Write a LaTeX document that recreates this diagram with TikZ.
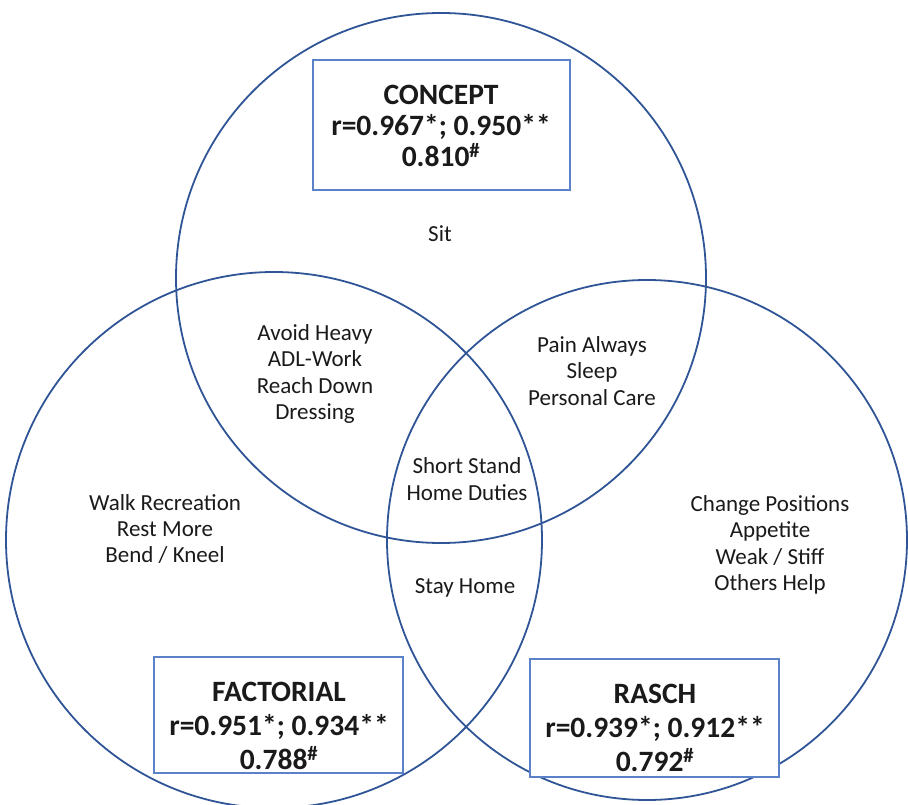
\documentclass[tikz,border=0pt]{standalone}
\usepackage{fontspec}
\setmainfont{Carlito}
\definecolor{circ}{HTML}{2F5597}
\definecolor{boxc}{HTML}{5B82C8}
\definecolor{txt}{HTML}{1A1A1A}
\begin{document}
\begin{tikzpicture}[x=1pt,y=-1pt,
  setc/.style={draw=circ,line width=1.8pt},
  rbox/.style={draw=boxc,line width=1.1pt,inner sep=0pt},
  lbl/.style={align=center,text=txt,font=\fontsize{23}{26.3}\selectfont,inner sep=0pt},
  head/.style={align=center,text=txt,font=\fontsize{29.5}{31}\selectfont\bfseries,inner sep=0pt},
  headb/.style={align=center,text=txt,font=\fontsize{29.5}{34}\selectfont\bfseries,inner sep=0pt}]
\useasboundingbox (0,0) rectangle (908,805);
\begin{scope}
\clip (0,0) rectangle (908,805);
\node[setc,circle,minimum size=530pt,inner sep=0pt] (ctop) at (441,278) {};
\node[setc,circle,minimum size=536pt,inner sep=0pt] (cleft) at (274,540) {};
\node[setc,circle,minimum size=520pt,inner sep=0pt] (cright) at (647,540) {};
\end{scope}
% boxes
\node[rbox,minimum width=257pt,minimum height=130pt,fill=white] (bconcept) at (441.5,125) {};
\node[rbox,minimum width=249pt,minimum height=116pt,fill=white] (bfact) at (278.5,715) {};
\node[rbox,minimum width=249pt,minimum height=118pt,fill=white] (brasch) at (654.5,718) {};
\node[head] (tconcept) at (441,126) {CONCEPT\\r=0.967*; 0.950**\\0.810\textsuperscript{\#}};
\node[headb] (tfact) at (279,726) {FACTORIAL\\r=0.951*; 0.934**\\0.788\textsuperscript{\#}};
\node[headb] (trasch) at (655,728) {RASCH\\r=0.939*; 0.912**\\0.792\textsuperscript{\#}};
% region labels
\node[lbl] (sit) at (440,234) {Sit};
\node[lbl] (ct_l) at (315,374) {Avoid Heavy\\ADL-Work\\Reach Down\\Dressing};
\node[lbl] (ct_r) at (592,371) {Pain Always\\Sleep\\Personal Care};
\node[lbl] (all) at (467,479) {Short Stand\\Home Duties};
\node[lbl] (lr) at (465,588) {Stay Home};
\node[lbl] (lonly) at (165,529) {Walk Recreation\\Rest More\\Bend / Kneel};
\node[lbl] (ronly) at (770,545) {Change Positions\\Appetite\\Weak / Stiff\\Others Help};
\end{tikzpicture}
\end{document}
